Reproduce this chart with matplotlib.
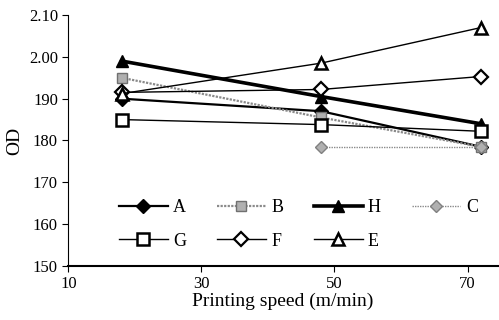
import numpy as np
import matplotlib
matplotlib.use('Agg')
import matplotlib.pyplot as plt

plt.rcParams['font.family'] = ['Liberation Serif', 'DejaVu Serif']

speed = [18, 48, 72]
A = [1.90, 1.87, 1.785]
B = [1.95, 1.855, 1.785]
H = [1.99, 1.905, 1.84]
C = [np.nan, 1.785, 1.785]
G = [1.85, 1.838, 1.822]
F = [1.915, 1.922, 1.953]
E = [1.912, 1.985, 2.07]

yticks = [1.50, 1.60, 1.70, 1.80, 1.90, 2.00, 2.10]
ytick_labels = ['150', '160', '170', '180', '190', '2.00', '2.10']
xticks = [10, 30, 50, 70]

fig = plt.figure(figsize=(4.99, 3.2), dpi=100)
ax = fig.add_axes([0.137, 0.169, 0.86, 0.784])

ms = 8
hA, = ax.plot(speed, A, color='black', lw=1.6, marker='D', ms=ms-1, mfc='black', label='A')
hB, = ax.plot(speed, B, color='#8a8a8a', lw=1.6, ls=(0, (1, 0.6)), marker='s', ms=ms-1,
              mfc='#b0b0b0', mec='#707070', label='B')
hH, = ax.plot(speed, H, color='black', lw=2.6, marker='^', ms=ms+1, mfc='black', label='H')
hC, = ax.plot(speed, C, color='#8a8a8a', lw=1.0, ls=(0, (1, 0.8)), marker='D', ms=ms-2,
              mfc='#b0b0b0', mec='#808080', label='C')
hG, = ax.plot(speed, G, color='black', lw=1.0, marker='s', ms=ms, mfc='white', mew=1.8, label='G')
hF, = ax.plot(speed, F, color='black', lw=1.0, marker='D', ms=ms-1, mfc='white', mew=1.6, label='F')
hE, = ax.plot(speed, E, color='black', lw=1.0, marker='^', ms=ms+1, mfc='white', mew=1.8, label='E')

ax.set_xlim(10, 74.5)
ax.set_ylim(1.50, 2.10)
ax.set_xticks(xticks)
ax.set_xticklabels([str(t) for t in xticks], fontsize=12)
ax.set_yticks(yticks)
ax.set_yticklabels(ytick_labels, fontsize=12)
ax.spines['top'].set_visible(False)
ax.spines['right'].set_visible(False)
ax.spines['bottom'].set_linewidth(1.5)
ax.tick_params(direction='out', length=4)

ax.set_xlabel('Printing speed (m/min)', fontsize=14, labelpad=0)
ax.set_ylabel('OD', fontsize=14, labelpad=4)

handles = [hA, hG, hB, hF, hH, hE, hC]
ax.legend(handles=handles, labels=[h.get_label() for h in handles], ncol=4,
          loc='lower left', bbox_to_anchor=(0.08, 0.0), frameon=False,
          fontsize=13, handlelength=2.7, handletextpad=0.3, columnspacing=1.7,
          labelspacing=0.9)

fig.savefig('out.png', dpi=100)
